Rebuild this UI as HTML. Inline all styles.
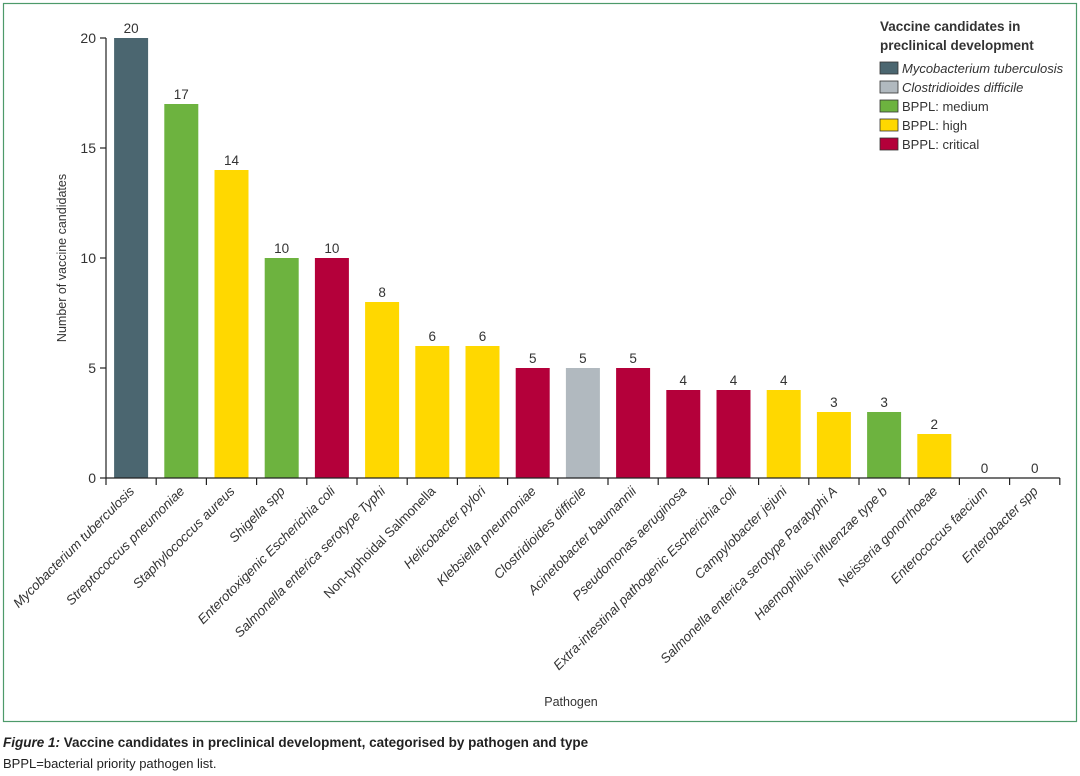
<!DOCTYPE html>
<html><head><meta charset="utf-8"><style>
body{margin:0;background:#fff;font-family:"Liberation Sans",sans-serif;}
#wrap{position:relative;width:1080px;height:776px;}
svg text{font-family:"Liberation Sans",sans-serif;fill:#333;}
.cap{position:absolute;left:3px;font-size:13px;color:#222;}
</style></head><body>
<div id="wrap">
<svg id="chart" width="1080" height="730">
<rect x="3.5" y="3.5" width="1073" height="718" fill="none" stroke="#4d9a6a" stroke-width="1.2"/>
<g id="plot"></g>
<text x="66" y="258" transform="rotate(-90 66 258)" text-anchor="middle" font-size="12.5">Number of vaccine candidates</text>
<text x="571" y="706" text-anchor="middle" font-size="12.5">Pathogen</text>
<g>
<text x="880" y="31" font-size="13.5" font-weight="bold" fill="#222">Vaccine candidates in</text>
<text x="880" y="50" font-size="13.5" font-weight="bold" fill="#222">preclinical development</text>
<g id="legend"></g>
</g>
</svg>
<div class="cap" style="top:735px;font-weight:bold;font-size:13.5px"><i>Figure 1:</i> Vaccine candidates in preclinical development, categorised by pathogen and type</div>
<div class="cap" style="top:756px">BPPL=bacterial priority pathogen list.</div>
</div>
<script>
const categories=["Mycobacterium tuberculosis","Streptococcus pneumoniae","Staphylococcus aureus","Shigella spp","Enterotoxigenic Escherichia coli","Salmonella enterica serotype Typhi","Non-typhoidal Salmonella","Helicobacter pylori","Klebsiella pneumoniae","Clostridioides difficile","Acinetobacter baumannii","Pseudomonas aeruginosa","Extra-intestinal pathogenic Escherichia coli","Campylobacter jejuni","Salmonella enterica serotype Paratyphi A","Haemophilus influenzae type b","Neisseria gonorrhoeae","Enterococcus faecium","Enterobacter spp"];
const values=[20,17,14,10,10,8,6,6,5,5,5,4,4,4,3,3,2,0,0];
const groups=["tb","medium","high","medium","critical","high","high","high","critical","cdiff","critical","critical","critical","high","high","medium","high","critical","critical"];
const yTicks=[0,5,10,15,20];
const legendKeys=["tb","cdiff","medium","high","critical"];
const legendLabels=["Mycobacterium tuberculosis","Clostridioides difficile","BPPL: medium","BPPL: high","BPPL: critical"];
const colors={tb:"#4b6670",cdiff:"#b1b9bf",medium:"#6db33f",high:"#ffd800",critical:"#b4003a"};
const NS="http://www.w3.org/2000/svg";
const x0=106,band=50.2,y0=478,ppu=22,bw=34;
const xS=i=>x0+band*i, yS=v=>y0-v*ppu;
const g=document.getElementById('plot');
function mk(t,a,p){const e=document.createElementNS(NS,t);for(const k in a)e.setAttribute(k,a[k]);(p||g).appendChild(e);return e;}
categories.forEach((c,i)=>{
 const cx=xS(i)+band/2;
 const r=mk('rect',{x:cx-bw/2,y:yS(values[i]),width:bw,height:values[i]*ppu,fill:colors[groups[i]]});
 
 
 const t=mk('text',{x:cx,y:yS(values[i])-5,'text-anchor':'middle','font-size':13.5});
 t.textContent=values[i];
 
 
 const l=mk('text',{x:cx+4,y:492,'text-anchor':'end','font-size':13.3,transform:`rotate(-45 ${cx+4} 492)`,'font-style':c.startsWith('Non-')?'normal':'italic'});
 l.textContent=c;
 
 
});
for(let i=0;i<=categories.length;i++){
 const tk=mk('line',{x1:xS(i),x2:xS(i),y1:y0,y2:y0+7,stroke:'#222','stroke-width':1.2});
 
 
}
const ax=mk('line',{x1:x0,x2:x0,y1:yS(20),y2:y0,stroke:'#222','stroke-width':1.2});


const xa=mk('line',{x1:x0,x2:xS(categories.length),y1:y0,y2:y0,stroke:'#222','stroke-width':1.2});


yTicks.forEach(v=>{
 const tk=mk('line',{x1:x0-6,x2:x0,y1:yS(v),y2:yS(v),stroke:'#222','stroke-width':1.2});
 
 
 const t=mk('text',{x:x0-10,y:yS(v)+5,'text-anchor':'end','font-size':14});
 t.textContent=v;
 
 
});
const lg=document.getElementById('legend');
legendKeys.forEach((k,i)=>{
 const y=62+i*19;
 const r=mk('rect',{x:880,y:y,width:18,height:12,fill:colors[k],stroke:'#333','stroke-width':0.8},lg);
 
 
 const t=mk('text',{x:902,y:y+11,'font-size':13,'font-style':i<2?'italic':'normal'},lg);
 t.textContent=legendLabels[i];
 
 
});
</script>
</body></html>
